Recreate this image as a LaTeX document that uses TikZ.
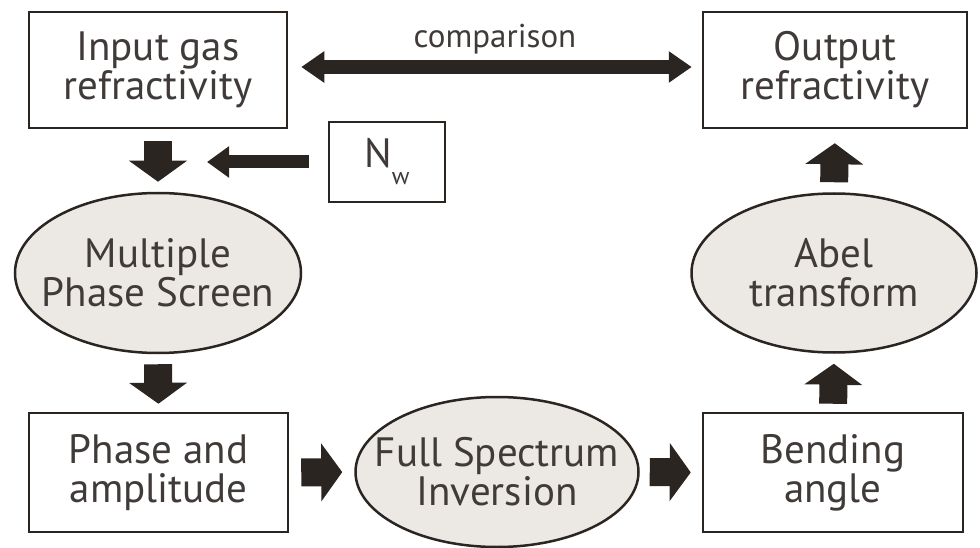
\documentclass[tikz,border=0pt]{standalone}
\usepackage{fontspec}
\setmainfont{PT Sans}
\usepackage{tikz}
\usetikzlibrary{arrows.meta,shapes.geometric,positioning}
\definecolor{ink}{HTML}{2B2522}
\definecolor{txtgrey}{HTML}{403B38}
\definecolor{shade}{HTML}{ECE9E5}

\begin{document}
\begin{tikzpicture}[x=1pt,y=-1pt]
\tikzstyle{box}=[draw=ink,line width=2.5pt,fill=white,align=center,inner sep=0pt,
  text=txtgrey,font=\fontsize{41}{39}\selectfont]
\tikzstyle{proc}=[ellipse,draw=ink,line width=2.5pt,fill=shade,inner sep=0pt]
\tikzstyle{txt}=[align=center,text=txtgrey,font=\fontsize{41}{39}\selectfont]
\tikzstyle{bigarrow}=[ink,line width=28pt,-{Triangle[length=21pt,width=57pt]}]
\tikzstyle{thinarrow}=[ink,line width=13pt,-{Triangle[length=22pt,width=30pt]}]
\useasboundingbox (0,0) rectangle (980,548);

\node[box,minimum width=258pt,minimum height=116pt] (in)   at (158,70)    {Input gas\\refractivity};
\node[box,minimum width=264pt,minimum height=116pt] (out)  at (835,70)    {Output\\refractivity};
\node[box,minimum width=116pt,minimum height=80pt]  (nw)   at (387,162)   {N\raisebox{-17pt}{\fontsize{24}{24}\selectfont w}};
\node[proc,minimum width=286pt,minimum height=160pt,
      label={[txt]center:{Multiple\\Phase Screen}}]   (mps)  at (158,273)   {};
\node[proc,minimum width=285pt,minimum height=159pt,
      label={[txt]center:{Abel\\transform}}]          (abel) at (834,273)   {};
\node[box,minimum width=259pt,minimum height=119pt] (pha)  at (158.5,472.5) {Phase and\\amplitude};
\node[proc,minimum width=283pt,minimum height=150pt,
      label={[txt]center:{Full Spectrum\\Inversion}}] (fsi)  at (497,472)   {};
\node[box,minimum width=260pt,minimum height=119pt] (bend) at (833,472.5) {Bending\\angle};
\coordinate (join) at (207,162);

\draw[bigarrow,shorten <=12pt,shorten >=10pt] (in.south) -- (mps.north);
\draw[bigarrow,shorten <=10pt,shorten >=8pt] (mps.south) -- (pha.north);
\draw[bigarrow,shorten <=12pt,shorten >=12pt] (pha.east) -- (fsi.west);
\draw[bigarrow,shorten <=10pt,shorten >=11pt] (fsi.east) -- (bend.west);
\draw[bigarrow,shorten <=8pt,shorten >=10pt] (bend.north) -- (abel.south);
\draw[bigarrow,shorten <=10pt,shorten >=14pt] (abel.north) -- (out.south);
\draw[thinarrow,shorten <=19pt] (nw.west) -- (join);
\draw[ink,line width=14pt,{Triangle[length=23pt,width=30pt]}-{Triangle[length=23pt,width=30pt]},
      shorten <=13pt,shorten >=10pt] ([yshift=3pt]in.east) -- node[above=3pt,text=txtgrey,
      font=\fontsize{33}{33}\selectfont] {comparison} ([yshift=3pt]out.west);
\end{tikzpicture}
\end{document}
